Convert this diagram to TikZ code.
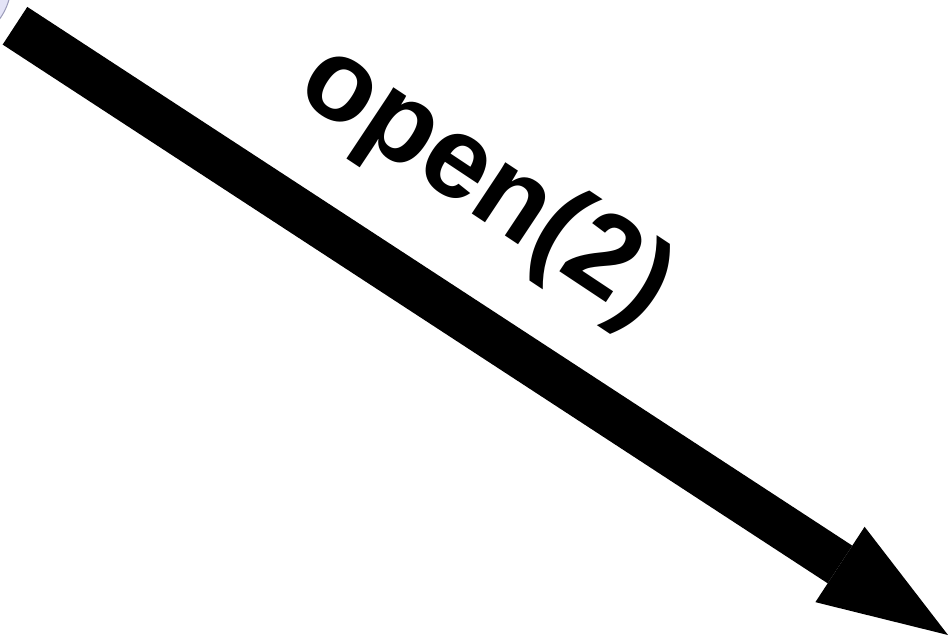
\documentclass[tikz,border=0pt]{standalone}
\usepackage{fontspec}
\setmainfont{Liberation Sans}
\usetikzlibrary{arrows.meta, positioning}
\definecolor{statefill}{HTML}{E4E4F7}
\definecolor{statedraw}{HTML}{9A9AB8}

\begin{document}
\begin{tikzpicture}[
  x=1pt, y=-1pt,
  state/.style={circle, draw=statedraw, fill=statefill, line width=1pt,
                minimum size=127pt, inner sep=0pt, outer sep=0pt},
  bigarrow/.style={-{Triangle[length=129pt, width=90pt, line width=0pt]},
                   line width=45pt, shorten <=16.5pt},
  lbl/.style={font=\bfseries\fontsize{116}{134}\selectfont,
              rotate=-33.6, inner sep=0pt}
]
\useasboundingbox (0,0) rectangle (948,635);

% ---------------- States ----------------
\node[state] (prev) at (-52,-18) {};
\coordinate (next) at (948,635);

% ---------------- Transition ----------------
\draw[bigarrow] (prev) -- (next);
\node[lbl] (open) at (485,186) {open(2)};

\end{tikzpicture}
\end{document}
